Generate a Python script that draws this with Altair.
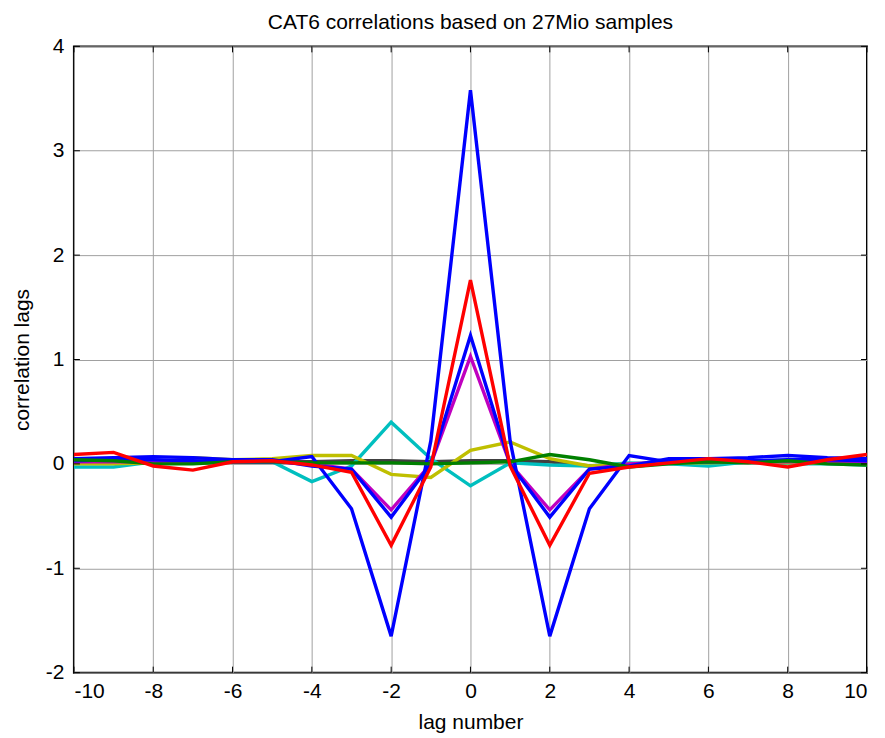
import altair as alt
import pandas as pd

# ---------------- data ----------------
lags = list(range(-10, 11))

gray_vals    = [0.01, 0.01, 0.02, 0.02, 0.02, 0.02, 0.02, 0.03, 0.03, 0.02, 0.03, 0.03, 0.02, -0.02, 0.0, 0.01, 0.02, 0.02, 0.02, 0.01, 0.0]
cyan_vals    = [-0.03, -0.03, 0.02, 0.02, 0.02, 0.02, -0.17, -0.02, 0.40, 0.05, -0.21, 0.01, -0.01, -0.02, 0.01, 0.0, -0.02, 0.02, 0.0, 0.0, -0.01]
yellow_vals  = [0.0, 0.0, 0.01, 0.06, 0.04, 0.05, 0.08, 0.08, -0.10, -0.13, 0.13, 0.21, 0.05, -0.02, 0.0, 0.01, 0.01, 0.02, 0.01, 0.01, 0.01]
magenta_vals = [0.02, 0.02, 0.02, 0.02, 0.02, 0.02, 0.0, -0.05, -0.44, 0.0, 1.03, 0.0, -0.44, -0.05, 0.0, 0.02, 0.02, 0.02, 0.02, 0.02, 0.02]
blue2_vals   = [0.05, 0.06, 0.07, 0.06, 0.04, 0.04, -0.02, -0.05, -0.51, 0.0, 1.23, 0.0, -0.51, -0.05, -0.02, 0.05, 0.05, 0.06, 0.08, 0.06, 0.05]
blue1_vals   = [0.03, 0.04, 0.04, 0.03, 0.02, 0.02, 0.07, -0.43, -1.65, 0.22, 3.58, 0.22, -1.65, -0.43, 0.08, 0.02, 0.02, 0.03, 0.04, 0.04, 0.03]
green_vals   = [0.04, 0.03, 0.0, 0.0, 0.02, 0.02, 0.01, 0.01, 0.01, 0.0, 0.01, 0.02, 0.09, 0.04, -0.03, 0.0, 0.02, 0.01, 0.03, 0.0, -0.01]
red_vals     = [0.09, 0.11, -0.02, -0.06, 0.02, 0.03, -0.01, -0.08, -0.78, -0.03, 1.76, -0.02, -0.78, -0.09, -0.03, 0.01, 0.05, 0.02, -0.03, 0.04, 0.09]

series = [
    ("gray", gray_vals, "#404040"),
    ("cyan", cyan_vals, "#00BFBF"),
    ("yellow", yellow_vals, "#BFBF00"),
    ("magenta", magenta_vals, "#BF00BF"),
    ("blue2", blue2_vals, "#0000FF"),
    ("blue1", blue1_vals, "#0000FF"),
    ("green", green_vals, "#008000"),
    ("red", red_vals, "#FF0000"),
]

x_ticks = list(range(-10, 11, 2))
y_ticks = [-2, -1, 0, 1, 2, 3, 4]

title_text = "CAT6 correlations based on 27Mio samples"
x_title = "lag number"
y_title = "correlation lags"

# ---------------- chart ----------------
W, H = 794, 627
FONT = "Liberation Sans"

xscale = alt.Scale(domain=[-10, 10], nice=False, zero=False)
yscale = alt.Scale(domain=[-2, 4], nice=False, zero=False)

x_axis = alt.Axis(values=x_ticks, title=x_title, grid=True, gridColor="#a0a0a0", gridWidth=1,
                  domain=False, ticks=False, labelFontSize=21, labelFont=FONT, labelColor="black",
                  labelPadding=8, labelExpr="datum.value + ''", titleFont=FONT, titleFontSize=21,
                  titleFontWeight="normal", titleColor="black", titlePadding=10)
y_axis = alt.Axis(values=y_ticks, title=y_title, grid=True, gridColor="#a0a0a0", gridWidth=1,
                  domain=False, ticks=False, labelFontSize=21, labelFont=FONT, labelColor="black",
                  labelPadding=10, labelExpr="datum.value + ''", titleFont=FONT, titleFontSize=21,
                  titleFontWeight="normal", titleColor="black", titlePadding=13)

layers = []
for name, vals, col in series:
    df = pd.DataFrame({"lag": lags, "v": vals})
    layers.append(
        alt.Chart(df).mark_line(color=col, strokeWidth=3.4, clip=True).encode(
            x=alt.X("lag:Q", scale=xscale, axis=x_axis),
            y=alt.Y("v:Q", scale=yscale, axis=y_axis),
        )
    )

xt = pd.DataFrame({"t": x_ticks})
yt = pd.DataFrame({"t": y_ticks})
TL = 6
layers += [
    alt.Chart(xt).mark_rule(color="black", strokeWidth=1).encode(
        x=alt.X("t:Q", scale=xscale, axis=x_axis), y=alt.value(H), y2=alt.value(H - TL)),
    alt.Chart(xt).mark_rule(color="black", strokeWidth=1).encode(
        x=alt.X("t:Q", scale=xscale, axis=x_axis), y=alt.value(0), y2=alt.value(TL)),
    alt.Chart(yt).mark_rule(color="black", strokeWidth=1).encode(
        y=alt.Y("t:Q", scale=yscale, axis=y_axis), x=alt.value(0), x2=alt.value(TL)),
    alt.Chart(yt).mark_rule(color="black", strokeWidth=1).encode(
        y=alt.Y("t:Q", scale=yscale, axis=y_axis), x=alt.value(W), x2=alt.value(W - TL)),
]

chart = alt.layer(*layers).properties(
    width=W, height=H,
    background="white",
    title=alt.TitleParams(title_text, fontSize=21, font=FONT, fontWeight="normal",
                          color="black", anchor="middle", offset=2),
    padding={"left": 66, "top": 38, "right": 10, "bottom": 62},
    autosize=alt.AutoSizeParams(type="none"),
).configure_view(stroke="black", strokeWidth=2)

chart.save("out.html", embed_options={"renderer": "svg", "actions": False})
